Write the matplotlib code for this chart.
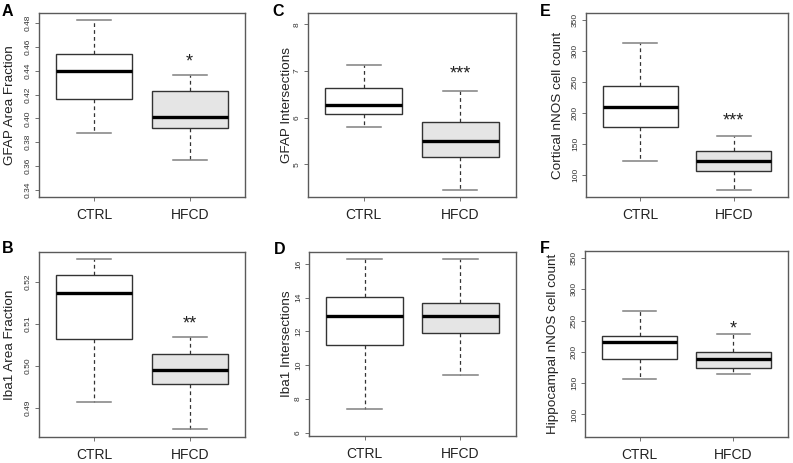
import matplotlib
matplotlib.use("Agg")
import matplotlib.pyplot as plt

plt.rcParams["font.family"] = ["Liberation Sans", "DejaVu Sans"]

W, H = 793, 463
DPI = 100

groups = ["CTRL", "HFCD"]

# five-number summaries [low whisker, Q1, median, Q3, high whisker]
gfap_area_ctrl = [0.3876, 0.4159, 0.4400, 0.4540, 0.4828]
gfap_area_hfcd = [0.3650, 0.3921, 0.4014, 0.4232, 0.4366]
iba1_area_ctrl = [0.4914, 0.5063, 0.5173, 0.5218, 0.5255]
iba1_area_hfcd = [0.4849, 0.4956, 0.4991, 0.5029, 0.5070]
gfap_int_ctrl = [5.80, 6.071, 6.279, 6.636, 7.121]
gfap_int_hfcd = [4.443, 5.157, 5.50, 5.90, 6.571]
iba1_int_ctrl = [7.41, 11.21, 12.89, 14.06, 16.32]
iba1_int_hfcd = [9.41, 11.92, 12.93, 13.70, 16.32]
cort_nnos_ctrl = [122.3, 177.4, 209.3, 243.8, 311.9]
cort_nnos_hfcd = [74.8, 106.7, 122.3, 138.0, 161.7]
hipp_nnos_ctrl = [157.2, 189.1, 216.2, 225.8, 265.7]
hipp_nnos_hfcd = [165.2, 174.7, 188.0, 199.7, 229.0]

panel_letters = ["A", "B", "C", "D", "E", "F"]
ylabels = ["GFAP Area Fraction", "Iba1 Area Fraction", "GFAP Intersections",
           "Iba1 Intersections", "Cortical nNOS cell count",
           "Hippocampal nNOS cell count"]
stars = ["*", "**", "***", "", "***", "*"]
star_y = [0.4475, 0.5099, 6.93, None, 187.0, 237.0]
ylims = [(0.334, 0.4884), (0.4830, 0.5272), (4.30, 8.243), (5.8, 16.71),
         (64, 361), (64, 361)]
yticks = [[0.34, 0.36, 0.38, 0.40, 0.42, 0.44, 0.46, 0.48],
          [0.49, 0.50, 0.51, 0.52],
          [5, 6, 7, 8],
          [6, 8, 10, 12, 14, 16],
          [100, 150, 200, 250, 300, 350],
          [100, 150, 200, 250, 300, 350]]
yticklabels = [["0.34", "0.36", "0.38", "0.40", "0.42", "0.44", "0.46", "0.48"],
               ["0.49", "0.50", "0.51", "0.52"],
               ["5", "6", "7", "8"],
               ["6", "8", "10", "12", "14", "16"],
               ["100", "150", "200", "250", "300", "350"],
               ["100", "150", "200", "250", "300", "350"]]
data = [(gfap_area_ctrl, gfap_area_hfcd), (iba1_area_ctrl, iba1_area_hfcd),
        (gfap_int_ctrl, gfap_int_hfcd), (iba1_int_ctrl, iba1_int_hfcd),
        (cort_nnos_ctrl, cort_nnos_hfcd), (hipp_nnos_ctrl, hipp_nnos_hfcd)]

# axes pixel boxes (left, top, right, bottom)
boxes = [(39, 13, 245, 197), (39, 252, 245, 437),
         (308, 13, 516, 197), (309, 252, 516, 436),
         (586, 13, 788, 197), (585, 251, 788, 437)]
letter_pos = [(2, 11), (2, 249), (272, 11), (274, 250), (540, 11), (540, 248)]
# centre x of each y label
ylabel_x = [10, 10, 287, 287, 558, 553]

fig = plt.figure(figsize=(W / DPI, H / DPI), dpi=DPI)
fig.patch.set_facecolor("white")

frame_col = "#5a5a5a"
for i in range(6):
    l, t, r, b = boxes[i]
    ax = fig.add_axes([l / W, 1 - b / H, (r - l) / W, (b - t) / H])
    stats = []
    for j, s in enumerate(data[i]):
        stats.append(dict(whislo=s[0], q1=s[1], med=s[2], q3=s[3], whishi=s[4],
                          label=groups[j]))
    bp = ax.bxp(stats, positions=[1, 2], widths=0.8, capwidths=0.36,
                showfliers=False, patch_artist=True,
                boxprops=dict(edgecolor="#333333", linewidth=1.0),
                whiskerprops=dict(color="#333333", linestyle=(0, (3, 2.5)),
                                  linewidth=0.9),
                capprops=dict(color="#808080", linewidth=1.1),
                medianprops=dict(color="black", linewidth=2.4))
    bp["boxes"][0].set_facecolor("white")
    bp["boxes"][1].set_facecolor("#e5e5e5")
    ax.set_xlim(0.42, 2.58)
    ax.set_ylim(*ylims[i])
    ax.set_yticks(yticks[i])
    ax.set_yticklabels(yticklabels[i], rotation=90, va="center",
                       fontsize=6, color="#333333")
    ax.set_xticks([1, 2])
    ax.set_xticklabels(groups, fontsize=10, color="#222222")
    ax.tick_params(axis="y", length=3, width=0.6, color=frame_col, pad=2)
    ax.tick_params(axis="x", length=3, width=0.6, color=frame_col, pad=5)
    for sp in ax.spines.values():
        sp.set_color(frame_col)
        sp.set_linewidth(1.0)
    ax.set_ylabel(ylabels[i], fontsize=9.7, color="#222222",
                  va="center", rotation_mode="anchor")
    ax.yaxis.set_label_coords((ylabel_x[i] - l) / (r - l), 0.5)
    if stars[i]:
        ax.text(2, star_y[i], stars[i], ha="center", va="center",
                fontsize=13, color="#222222")
    fig.text(letter_pos[i][0] / W, 1 - letter_pos[i][1] / H, panel_letters[i],
             fontsize=11.5, fontweight="bold", ha="left", va="center")

fig.savefig("out.png", dpi=DPI, facecolor="white")
